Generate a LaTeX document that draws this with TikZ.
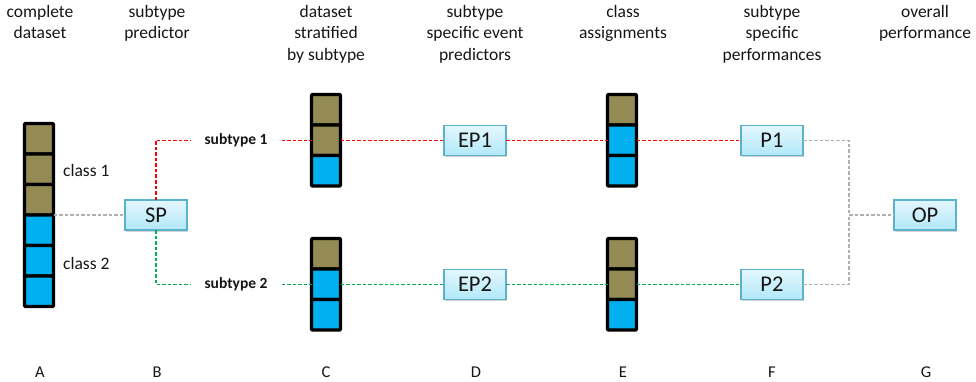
\documentclass[tikz,border=0pt]{standalone}
\usepackage{fontspec}
\setmainfont{Carlito}
\usetikzlibrary{shadows}
\definecolor{olivec}{HTML}{948A54}
\definecolor{cyanb}{HTML}{00B0F0}
\definecolor{boxborder}{HTML}{5AB2CC}
\definecolor{boxtop}{HTML}{E4F7FE}
\definecolor{boxbot}{HTML}{B2E8F9}
\definecolor{redl}{HTML}{FF0000}
\definecolor{greenl}{HTML}{00B050}
\definecolor{greyl}{HTML}{B0B0B0}
\definecolor{txt}{HTML}{151515}
\tikzset{
  cell/.style={draw=black, line width=3.2pt, minimum width=29pt, minimum height=30.5pt, inner sep=0pt, outer sep=0pt, rounded corners=1pt},
  ol/.style={cell, fill=olivec},
  bl/.style={cell, fill=cyanb},
  pbox/.style={draw=boxborder, line width=1.2pt, top color=boxtop, bottom color=boxbot, minimum width=62pt, minimum height=30pt, inner sep=0pt, outer sep=0pt, font=\fontsize{22.5}{24}\selectfont, text=txt, drop shadow={shadow xshift=1.2pt, shadow yshift=-2pt, opacity=0.35}},
  header/.style={anchor=north, align=center, inner sep=0pt, font=\fontsize{17.5}{21.5}\selectfont, text=txt},
  colname/.style={anchor=base, inner sep=0pt, font=\fontsize{16.5}{18}\selectfont, text=txt},
  classlbl/.style={anchor=base west, inner sep=0pt, font=\fontsize{17.5}{20}\selectfont, text=txt},
  sublbl/.style={inner xsep=14pt, inner ysep=0pt, font=\fontsize{15.5}{18}\selectfont\bfseries, text=txt},
  conn/.style={line width=1.2pt, dash pattern=on 3.5pt off 2pt},
  redd/.style={conn, draw=redl},
  greend/.style={conn, draw=greenl},
  greyd/.style={conn, draw=greyl}
}
\begin{document}
\begin{tikzpicture}[x=1pt,y=-1pt]
\useasboundingbox (0,0) rectangle (976,382);
% headers
\node[header] (hA) at (40,5) {complete\\dataset};
\node[header] (hB) at (157,5) {subtype\\predictor};
\node[header] (hC) at (326,5) {dataset\\stratified\\by subtype};
\node[header] (hD) at (475,5) {subtype\\specific event\\predictors};
\node[header] (hE) at (623,5) {class\\assignments};
\node[header] (hF) at (772,5) {subtype\\specific\\performances};
\node[header] (hG) at (925,5) {overall\\performance};
% column letters
\node[colname] (lA) at (40,377) {A};
\node[colname] (lB) at (157,377) {B};
\node[colname] (lC) at (326,377) {C};
\node[colname] (lD) at (476,377) {D};
\node[colname] (lE) at (623,377) {E};
\node[colname] (lF) at (772,377) {F};
\node[colname] (lG) at (926,377) {G};
% stack A
\node[ol] (A1) at (39,138.75) {};
\node[ol] (A2) at (39,169.25) {};
\node[ol] (A3) at (39,199.75) {};
\node[bl] (A4) at (39,230.25) {};
\node[bl] (A5) at (39,260.75) {};
\node[bl] (A6) at (39,291.25) {};
\node[classlbl] (c1) at (63,177) {class 1};
\node[classlbl] (c2) at (63,269) {class 2};
% stack C
\node[ol] (Ct1) at (326,109.75) {};
\node[ol] (Ct2) at (326,140.25) {};
\node[bl] (Ct3) at (326,170.75) {};
\node[ol] (Cb1) at (326,253.75) {};
\node[bl] (Cb2) at (326,284.25) {};
\node[bl] (Cb3) at (326,314.75) {};
% stack E
\node[ol] (Et1) at (622,109.75) {};
\node[bl] (Et2) at (622,140.25) {};
\node[bl] (Et3) at (622,170.75) {};
\node[ol] (Eb1) at (622,253.75) {};
\node[ol] (Eb2) at (622,284.25) {};
\node[bl] (Eb3) at (622,314.75) {};
% boxes
\node[pbox] (SP) at (156,215) {SP};
\node[pbox] (EP1) at (475,140.25) {EP1};
\node[pbox] (EP2) at (475,284.25) {EP2};
\node[pbox] (P1) at (772,140.25) {P1};
\node[pbox] (P2) at (772,284.25) {P2};
\node[pbox] (OP) at (925,215) {OP};
% subtype labels
\node[sublbl] (st1) at (236,140.25) {subtype 1};
\node[sublbl] (st2) at (236,284.25) {subtype 2};
\coordinate (J) at (849,215);
% connectors
\draw[greyd] (A3.south east) -- (SP.west);
\draw[redd] (SP.north) |- (st1.west);
\draw[redd] (st1.east) -- (Ct2.west);
\draw[redd] (Ct2.east) -- (EP1.west);
\draw[redd] (EP1.east) -- (Et2.west);
\draw[redd] (Et2.east) -- (P1.west);
\draw[greend] (SP.south) |- (st2.west);
\draw[greend] (st2.east) -- (Cb2.west);
\draw[greend] (Cb2.east) -- (EP2.west);
\draw[greend] (EP2.east) -- (Eb2.west);
\draw[greend] (Eb2.east) -- (P2.west);
\draw[greyd] (P1.east) -| (J);
\draw[greyd] (P2.east) -| (J);
\draw[greyd] (J) -- (OP.west);
\end{tikzpicture}
\end{document}
